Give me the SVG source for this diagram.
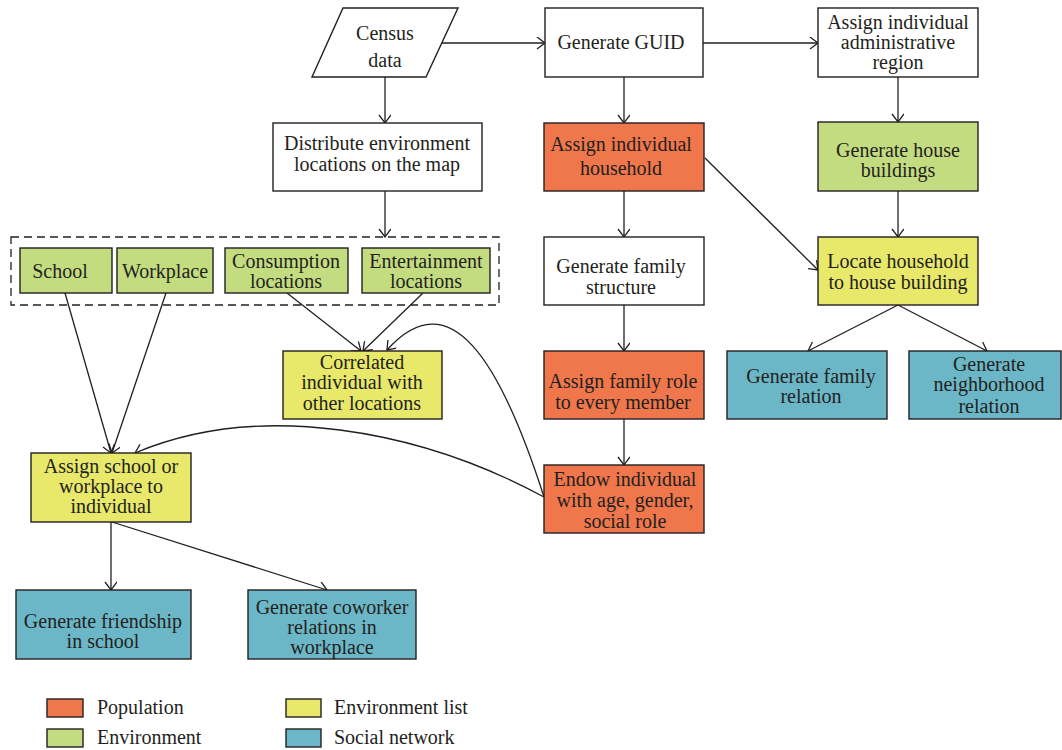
<svg xmlns="http://www.w3.org/2000/svg" width="1062" height="750" viewBox="0 0 1062 750">
  <style>
    .box { stroke: #231f20; stroke-width: 1.4; }
    .plain { fill: #ffffff; }
    .pop { fill: #f0774b; }
    .env { fill: #c4dc80; }
    .lst { fill: #e8e86a; }
    .soc { fill: #6cb7c7; }
    text { font-family: "Liberation Serif", "Times New Roman", serif; font-size: 20px; fill: #231f20; text-anchor: middle; }
    .legend text { text-anchor: start; }
    .edge { fill: none; stroke: #231f20; stroke-width: 1.3; marker-end: url(#arrow); }
    .group { fill: none; stroke: #231f20; stroke-width: 1.3; stroke-dasharray: 8 5; }
  </style>
  <defs>
    <marker id="arrow" markerUnits="userSpaceOnUse" markerWidth="14" markerHeight="14" refX="11" refY="6" orient="auto">
      <path d="M3,0 L11,6 L3,12" fill="none" stroke="#231f20" stroke-width="1.3"/>
    </marker>
  </defs>

  <!-- connectors -->
  <g id="connectors">
    <path class="edge" d="M441,43 L545,43"/>
    <path class="edge" d="M703,43 L818,43"/>
    <path class="edge" d="M385,77 L385,123"/>
    <path class="edge" d="M385,191 L385,237"/>
    <path class="edge" d="M624,77 L624,123"/>
    <path class="edge" d="M624,191 L624,237"/>
    <path class="edge" d="M624,305 L624,351"/>
    <path class="edge" d="M624,419 L624,465"/>
    <path class="edge" d="M898,77 L898,122"/>
    <path class="edge" d="M898,191 L898,237"/>
    <path class="edge" d="M705,158 L818,270"/>
    <path class="edge" d="M898,305 L808,351"/>
    <path class="edge" d="M898,305 L987,351"/>
    <path class="edge" d="M287,293 L361,351"/>
    <path class="edge" d="M423,293 L363,351"/>
    <path class="edge" d="M65,293 L111,453"/>
    <path class="edge" d="M166,293 L112,453"/>
    <path class="edge" d="M544,497 C500,360 450,280 387,350"/>
    <path class="edge" d="M544,497 C420,430 260,400 135,453"/>
    <path class="edge" d="M111,522 L111,590"/>
    <path class="edge" d="M112,522 L327,590"/>
  </g>

  <!-- environment group -->
  <rect id="env-group" class="group" x="11" y="237" width="488" height="68"/>

  <g id="census">
    <polygon class="box plain" points="343,8 458,8 426,77 312,77"/>
    <text x="385" y="40">Census</text>
    <text x="385" y="67">data</text>
  </g>
  <g id="guid">
    <rect class="box plain" x="545" y="8" width="158" height="69"/>
    <text x="621" y="49">Generate GUID</text>
  </g>
  <g id="admin-region">
    <rect class="box plain" x="818" y="8" width="160" height="69"/>
    <text x="898" y="29">Assign individual</text>
    <text x="898" y="49">administrative</text>
    <text x="898" y="69">region</text>
  </g>
  <g id="distribute">
    <rect class="box plain" x="273" y="123" width="209" height="68"/>
    <text x="377" y="150">Distribute environment</text>
    <text x="377" y="171">locations on the map</text>
  </g>
  <g id="household">
    <rect class="box pop" x="544" y="123" width="160" height="68"/>
    <text x="621" y="151">Assign individual</text>
    <text x="621" y="175">household</text>
  </g>
  <g id="house-buildings">
    <rect class="box env" x="818" y="122" width="160" height="69"/>
    <text x="898" y="157">Generate house</text>
    <text x="898" y="177">buildings</text>
  </g>
  <g id="school">
    <rect class="box env" x="20" y="248" width="92" height="45"/>
    <text x="60" y="278">School</text>
  </g>
  <g id="workplace">
    <rect class="box env" x="117" y="248" width="96" height="45"/>
    <text x="165" y="278">Workplace</text>
  </g>
  <g id="consumption">
    <rect class="box env" x="225" y="248" width="123" height="45"/>
    <text x="286" y="268">Consumption</text>
    <text x="286" y="288">locations</text>
  </g>
  <g id="entertainment">
    <rect class="box env" x="362" y="248" width="128" height="45"/>
    <text x="426" y="268">Entertainment</text>
    <text x="426" y="288">locations</text>
  </g>
  <g id="family-structure">
    <rect class="box plain" x="544" y="237" width="160" height="68"/>
    <text x="621" y="273">Generate family</text>
    <text x="621" y="294">structure</text>
  </g>
  <g id="locate-household">
    <rect class="box lst" x="818" y="237" width="160" height="68"/>
    <text x="898" y="268">Locate household</text>
    <text x="898" y="289">to house building</text>
  </g>
  <g id="correlated">
    <rect class="box lst" x="283" y="351" width="159" height="68"/>
    <text x="362" y="369">Correlated</text>
    <text x="362" y="389">individual with</text>
    <text x="362" y="410">other locations</text>
  </g>
  <g id="family-role">
    <rect class="box pop" x="544" y="351" width="160" height="68"/>
    <text x="623" y="388">Assign family role</text>
    <text x="623" y="409">to every member</text>
  </g>
  <g id="family-relation">
    <rect class="box soc" x="727" y="351" width="160" height="68"/>
    <text x="811" y="383">Generate family</text>
    <text x="811" y="403">relation</text>
  </g>
  <g id="neighborhood-relation">
    <rect class="box soc" x="909" y="351" width="152" height="68"/>
    <text x="989" y="371">Generate</text>
    <text x="989" y="391">neighborhood</text>
    <text x="989" y="413">relation</text>
  </g>
  <g id="assign-school">
    <rect class="box lst" x="31" y="453" width="160" height="69"/>
    <text x="111" y="473">Assign school or</text>
    <text x="111" y="493">workplace to</text>
    <text x="111" y="513">individual</text>
  </g>
  <g id="endow">
    <rect class="box pop" x="544" y="465" width="160" height="68"/>
    <text x="625" y="486">Endow individual</text>
    <text x="625" y="507">with age, gender,</text>
    <text x="625" y="528">social role</text>
  </g>
  <g id="friendship">
    <rect class="box soc" x="16" y="590" width="175" height="69"/>
    <text x="103" y="628">Generate friendship</text>
    <text x="103" y="648">in school</text>
  </g>
  <g id="coworker">
    <rect class="box soc" x="248" y="590" width="168" height="69"/>
    <text x="332" y="614">Generate coworker</text>
    <text x="332" y="634">relations in</text>
    <text x="332" y="654">workplace</text>
  </g>

  <!-- legend -->
  <g id="legend" class="legend">
    <rect class="box pop" x="47" y="699" width="36" height="18"/>
    <text x="97" y="714">Population</text>
    <rect class="box env" x="47" y="729" width="36" height="18"/>
    <text x="97" y="744">Environment</text>
    <rect class="box lst" x="286" y="699" width="35" height="18"/>
    <text x="334" y="714">Environment list</text>
    <rect class="box soc" x="286" y="729" width="35" height="18"/>
    <text x="334" y="744">Social network</text>
  </g>
</svg>
